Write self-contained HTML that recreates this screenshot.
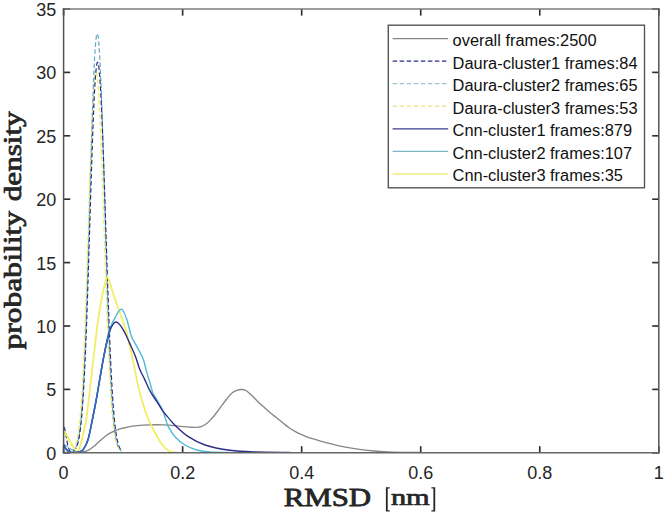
<!DOCTYPE html>
<html><head><meta charset="utf-8"><style>
html,body{margin:0;padding:0;background:#fff;}
body{width:665px;height:516px;overflow:hidden;position:relative;}
svg{position:absolute;left:0;top:0;}
.tk text{font-family:"Liberation Sans",sans-serif;font-size:18px;fill:#262626;}
.lg text{font-family:"Liberation Sans",sans-serif;font-size:16.4px;fill:#111;}
.lab{font-family:"Liberation Serif",serif;font-weight:normal;font-size:25.5px;fill:#262626;stroke:#262626;stroke-width:0.8px;}
</style></head><body>
<svg width="665" height="516" viewBox="0 0 665 516">
<rect x="0" y="0" width="665" height="516" fill="#fff"/>
<defs><clipPath id="ax"><rect x="63.6" y="9.0" width="595.20" height="443.80"/></clipPath></defs>
<g clip-path="url(#ax)">
<path d="M63.70,432.13 L63.96,432.15 L64.22,432.23 L64.48,432.36 L64.74,432.54 L64.99,432.78 L65.25,433.06 L65.51,433.38 L65.77,433.75 L66.03,434.16 L66.29,434.61 L66.55,435.09 L66.81,435.60 L67.06,436.14 L67.32,436.69 L67.58,437.27 L67.84,437.85 L68.10,438.45 L68.36,439.05 L68.62,439.65 L68.88,440.25 L69.13,440.84 L69.39,441.42 L69.65,441.98 L69.91,442.53 L70.17,443.05 L70.43,443.55 L70.69,444.02 L70.95,444.46 L71.20,444.86 L71.46,445.23 L71.72,445.56 L71.98,445.84 L72.24,446.09 L72.50,446.29 L72.76,446.44 L73.02,446.54 L73.27,446.58 L73.53,446.58 L73.79,446.51 L74.05,446.39 L74.31,446.20 L74.57,445.95 L74.83,445.63 L75.09,445.24 L75.34,444.77 L75.60,444.23 L75.86,443.60 L76.12,442.89 L76.38,442.08 L76.64,441.19 L76.90,440.19 L77.16,439.08 L77.41,437.87 L77.67,436.54 L77.93,435.08 L78.19,433.50 L78.45,431.78 L78.71,429.92 L78.97,427.92 L79.23,425.75 L79.48,423.43 L79.74,420.94 L80.00,418.27 L80.26,415.43 L80.52,412.39 L80.78,409.16 L81.04,405.74 L81.30,402.10 L81.55,398.26 L81.81,394.20 L82.07,389.93 L82.33,385.43 L82.59,380.71 L82.85,375.76 L83.11,370.58 L83.37,365.18 L83.62,359.55 L83.88,353.70 L84.14,347.62 L84.40,341.33 L84.66,334.82 L84.92,328.11 L85.18,321.20 L85.44,314.10 L85.69,306.83 L85.95,299.38 L86.21,291.78 L86.47,284.04 L86.73,276.17 L86.99,268.18 L87.25,260.11 L87.51,251.96 L87.76,243.75 L88.02,235.51 L88.28,227.25 L88.54,218.99 L88.80,210.76 L89.06,202.58 L89.32,194.47 L89.58,186.45 L89.84,178.54 L90.09,170.78 L90.35,163.17 L90.61,155.75 L90.87,148.53 L91.13,141.53 L91.39,134.78 L91.65,128.30 L91.91,122.10 L92.16,116.19 L92.42,110.61 L92.68,105.35 L92.94,100.44 L93.20,95.90 L93.46,91.72 L93.72,87.93 L93.98,84.52 L94.23,81.52 L94.49,78.92 L94.75,76.73 L95.01,74.96 L95.27,73.60 L95.53,72.67 L95.79,72.15 L96.05,72.05 L96.30,72.36 L96.56,73.09 L96.82,74.23 L97.08,75.76 L97.34,77.70 L97.60,80.03 L97.86,82.73 L98.12,85.81 L98.37,89.25 L98.63,93.05 L98.89,97.18 L99.15,101.65 L99.41,106.43 L99.67,111.51 L99.93,116.89 L100.19,122.54 L100.44,128.45 L100.70,134.61 L100.96,140.99 L101.22,147.59 L101.48,154.39 L101.74,161.37 L102.00,168.50 L102.26,175.79 L102.51,183.20 L102.77,190.72 L103.03,198.33 L103.29,206.02 L103.55,213.77 L103.81,221.55 L104.07,229.35 L104.33,237.16 L104.58,244.95 L104.84,252.72 L105.10,260.44 L105.36,268.09 L105.62,275.67 L105.88,283.16 L106.14,290.54 L106.40,297.81 L106.65,304.95 L106.91,311.94 L107.17,318.78 L107.43,325.46 L107.69,331.97 L107.95,338.31 L108.21,344.45 L108.47,350.41 L108.72,356.17 L108.98,361.73 L109.24,367.09 L109.50,372.24 L109.76,377.19 L110.02,381.93 L110.28,386.46 L110.54,390.79 L110.79,394.92 L111.05,398.84 L111.31,402.57 L111.57,406.10 L111.83,409.45 L112.09,412.61 L112.35,415.58 L112.61,418.39 L112.86,421.02 L113.12,423.49 L113.38,425.80 L113.64,427.97 L113.90,429.99 L114.16,431.87 L114.42,433.62 L114.68,435.24 L114.94,436.75 L115.19,438.14 L115.45,439.43 L115.71,440.61 L115.97,441.71 L116.23,442.71 L116.49,443.64 L116.75,444.48 L117.01,445.26 L117.26,445.97 L117.52,446.61 L117.78,447.20 L118.04,447.73 L118.30,448.22 L118.56,448.66 L118.82,449.06 L119.08,449.42 L119.33,449.74 L119.59,450.03 L119.85,450.30 L120.11,450.53 L120.37,450.75 L120.63,450.94" fill="none" stroke="#f1ee62" stroke-width="1.3" stroke-linejoin="round" stroke-dasharray="4.5 2.55"/>
<path d="M63.70,444.80 L63.96,444.80 L64.23,444.83 L64.49,444.88 L64.75,444.95 L65.01,445.04 L65.28,445.15 L65.54,445.28 L65.80,445.42 L66.07,445.58 L66.33,445.75 L66.59,445.93 L66.86,446.12 L67.12,446.33 L67.38,446.54 L67.64,446.75 L67.91,446.97 L68.17,447.20 L68.43,447.42 L68.70,447.64 L68.96,447.86 L69.22,448.07 L69.48,448.28 L69.75,448.48 L70.01,448.67 L70.27,448.85 L70.54,449.02 L70.80,449.17 L71.06,449.31 L71.33,449.43 L71.59,449.53 L71.85,449.61 L72.11,449.67 L72.38,449.71 L72.64,449.72 L72.90,449.70 L73.17,449.66 L73.43,449.59 L73.69,449.48 L73.96,449.34 L74.22,449.17 L74.48,448.96 L74.74,448.70 L75.01,448.41 L75.27,448.06 L75.53,447.67 L75.80,447.22 L76.06,446.71 L76.32,446.14 L76.58,445.51 L76.85,444.80 L77.11,444.02 L77.37,443.16 L77.64,442.22 L77.90,441.18 L78.16,440.04 L78.43,438.80 L78.69,437.44 L78.95,435.97 L79.21,434.37 L79.48,432.65 L79.74,430.77 L80.00,428.76 L80.27,426.58 L80.53,424.24 L80.79,421.73 L81.05,419.04 L81.32,416.16 L81.58,413.09 L81.84,409.81 L82.11,406.32 L82.37,402.61 L82.63,398.68 L82.90,394.51 L83.16,390.11 L83.42,385.46 L83.68,380.57 L83.95,375.42 L84.21,370.01 L84.47,364.35 L84.74,358.43 L85.00,352.24 L85.26,345.80 L85.53,339.10 L85.79,332.15 L86.05,324.94 L86.31,317.50 L86.58,309.81 L86.84,301.90 L87.10,293.77 L87.37,285.44 L87.63,276.92 L87.89,268.22 L88.15,259.36 L88.42,250.37 L88.68,241.25 L88.94,232.03 L89.21,222.73 L89.47,213.38 L89.73,204.00 L90.00,194.61 L90.26,185.25 L90.52,175.94 L90.78,166.70 L91.05,157.57 L91.31,148.58 L91.57,139.75 L91.84,131.11 L92.10,122.68 L92.36,114.51 L92.62,106.60 L92.89,99.00 L93.15,91.71 L93.41,84.78 L93.68,78.21 L93.94,72.03 L94.20,66.26 L94.47,60.92 L94.73,56.02 L94.99,51.58 L95.25,47.61 L95.52,44.12 L95.78,41.13 L96.04,38.63 L96.31,36.64 L96.57,35.16 L96.83,34.19 L97.09,33.74 L97.36,33.80 L97.62,34.38 L97.88,35.46 L98.15,37.05 L98.41,39.15 L98.67,41.73 L98.94,44.80 L99.20,48.35 L99.46,52.35 L99.72,56.81 L99.99,61.71 L100.25,67.03 L100.51,72.76 L100.78,78.88 L101.04,85.36 L101.30,92.20 L101.57,99.37 L101.83,106.85 L102.09,114.62 L102.35,122.65 L102.62,130.91 L102.88,139.39 L103.14,148.06 L103.41,156.89 L103.67,165.86 L103.93,174.93 L104.19,184.09 L104.46,193.31 L104.72,202.56 L104.98,211.82 L105.25,221.05 L105.51,230.25 L105.77,239.38 L106.04,248.42 L106.30,257.35 L106.56,266.16 L106.82,274.82 L107.09,283.31 L107.35,291.63 L107.61,299.75 L107.88,307.67 L108.14,315.37 L108.40,322.84 L108.66,330.08 L108.93,337.08 L109.19,343.82 L109.45,350.32 L109.72,356.56 L109.98,362.55 L110.24,368.27 L110.51,373.75 L110.77,378.96 L111.03,383.93 L111.29,388.65 L111.56,393.13 L111.82,397.36 L112.08,401.37 L112.35,405.15 L112.61,408.71 L112.87,412.05 L113.13,415.19 L113.40,418.14 L113.66,420.89 L113.92,423.46 L114.19,425.86 L114.45,428.09 L114.71,430.17 L114.98,432.09 L115.24,433.88 L115.50,435.53 L115.76,437.05 L116.03,438.46 L116.29,439.75 L116.55,440.94 L116.82,442.03 L117.08,443.03 L117.34,443.95 L117.61,444.78 L117.87,445.55 L118.13,446.24 L118.39,446.87 L118.66,447.45 L118.92,447.97 L119.18,448.44 L119.45,448.86 L119.71,449.25 L119.97,449.59 L120.23,449.91 L120.50,450.19 L120.76,450.44 L121.02,450.66 L121.29,450.86 L121.55,451.04" fill="none" stroke="#5aaec0" stroke-width="1.2" stroke-linejoin="round" stroke-dasharray="4.5 2.55"/>
<path d="M63.70,427.07 L63.97,427.20 L64.23,427.59 L64.50,428.23 L64.76,429.10 L65.03,430.17 L65.30,431.41 L65.56,432.79 L65.83,434.26 L66.09,435.80 L66.36,437.37 L66.63,438.93 L66.89,440.44 L67.16,441.90 L67.42,443.27 L67.69,444.54 L67.96,445.70 L68.22,446.74 L68.49,447.66 L68.75,448.46 L69.02,449.15 L69.29,449.73 L69.55,450.21 L69.82,450.60 L70.08,450.92 L70.35,451.16 L70.62,451.34 L70.88,451.47 L71.15,451.55 L71.42,451.60 L71.68,451.61 L71.95,451.59 L72.21,451.54 L72.48,451.47 L72.75,451.37 L73.01,451.26 L73.28,451.12 L73.54,450.96 L73.81,450.77 L74.08,450.56 L74.34,450.32 L74.61,450.05 L74.87,449.76 L75.14,449.42 L75.41,449.05 L75.67,448.64 L75.94,448.18 L76.20,447.67 L76.47,447.11 L76.74,446.48 L77.00,445.80 L77.27,445.05 L77.53,444.22 L77.80,443.31 L78.07,442.32 L78.33,441.23 L78.60,440.05 L78.86,438.76 L79.13,437.35 L79.40,435.83 L79.66,434.17 L79.93,432.39 L80.19,430.45 L80.46,428.37 L80.73,426.12 L80.99,423.71 L81.26,421.12 L81.52,418.35 L81.79,415.38 L82.06,412.22 L82.32,408.85 L82.59,405.27 L82.85,401.47 L83.12,397.44 L83.39,393.18 L83.65,388.69 L83.92,383.96 L84.18,378.98 L84.45,373.76 L84.72,368.30 L84.98,362.58 L85.25,356.63 L85.51,350.43 L85.78,343.99 L86.05,337.32 L86.31,330.41 L86.58,323.29 L86.85,315.95 L87.11,308.41 L87.38,300.68 L87.64,292.78 L87.91,284.70 L88.18,276.48 L88.44,268.14 L88.71,259.67 L88.97,251.12 L89.24,242.49 L89.51,233.81 L89.77,225.11 L90.04,216.40 L90.30,207.71 L90.57,199.06 L90.84,190.48 L91.10,181.99 L91.37,173.62 L91.63,165.39 L91.90,157.33 L92.17,149.47 L92.43,141.82 L92.70,134.41 L92.96,127.26 L93.23,120.40 L93.50,113.85 L93.76,107.61 L94.03,101.73 L94.29,96.20 L94.56,91.05 L94.83,86.29 L95.09,81.93 L95.36,77.99 L95.62,74.48 L95.89,71.39 L96.16,68.75 L96.42,66.56 L96.69,64.82 L96.95,63.53 L97.22,62.69 L97.49,62.31 L97.75,62.38 L98.02,62.90 L98.28,63.86 L98.55,65.26 L98.82,67.10 L99.08,69.37 L99.35,72.05 L99.61,75.14 L99.88,78.63 L100.15,82.50 L100.41,86.75 L100.68,91.35 L100.94,96.31 L101.21,101.60 L101.48,107.20 L101.74,113.11 L102.01,119.30 L102.28,125.77 L102.54,132.48 L102.81,139.42 L103.07,146.58 L103.34,153.94 L103.61,161.47 L103.87,169.15 L104.14,176.98 L104.40,184.92 L104.67,192.96 L104.94,201.08 L105.20,209.25 L105.47,217.46 L105.73,225.70 L106.00,233.93 L106.27,242.14 L106.53,250.31 L106.80,258.43 L107.06,266.47 L107.33,274.43 L107.60,282.28 L107.86,290.00 L108.13,297.60 L108.39,305.05 L108.66,312.34 L108.93,319.45 L109.19,326.39 L109.46,333.13 L109.72,339.68 L109.99,346.03 L110.26,352.16 L110.52,358.07 L110.79,363.77 L111.05,369.25 L111.32,374.50 L111.59,379.53 L111.85,384.34 L112.12,388.92 L112.38,393.28 L112.65,397.42 L112.92,401.35 L113.18,405.07 L113.45,408.59 L113.71,411.90 L113.98,415.02 L114.25,417.95 L114.51,420.70 L114.78,423.27 L115.04,425.67 L115.31,427.91 L115.58,430.00 L115.84,431.94 L116.11,433.74 L116.38,435.40 L116.64,436.94 L116.91,438.36 L117.17,439.67 L117.44,440.88 L117.71,441.98 L117.97,443.00 L118.24,443.92 L118.50,444.77 L118.77,445.54 L119.04,446.25 L119.30,446.89 L119.57,447.46 L119.83,447.99 L120.10,448.47 L120.37,448.89 L120.63,449.28 L120.90,449.63 L121.16,449.94 L121.43,450.22 L121.70,450.47 L121.96,450.70 L122.23,450.90" fill="none" stroke="#2c2c88" stroke-width="1.2" stroke-linejoin="round" stroke-dasharray="4.5 2.55"/>
<path d="M63.70,452.40 C65.75,452.40 72.92,452.43 76.00,452.40 C79.08,452.37 80.53,452.40 82.20,452.20 C83.87,452.00 84.70,451.70 86.00,451.20 C87.30,450.70 88.67,450.02 90.00,449.20 C91.33,448.38 92.67,447.40 94.00,446.30 C95.33,445.20 96.67,443.82 98.00,442.60 C99.33,441.38 100.67,440.13 102.00,439.00 C103.33,437.87 104.67,436.77 106.00,435.80 C107.33,434.83 108.67,433.98 110.00,433.20 C111.33,432.42 112.67,431.70 114.00,431.10 C115.33,430.50 116.67,430.05 118.00,429.60 C119.33,429.15 119.83,428.95 122.00,428.40 C124.17,427.85 127.48,426.85 131.00,426.30 C134.52,425.75 137.72,425.33 143.10,425.10 C148.48,424.87 157.15,424.68 163.30,424.90 C169.45,425.12 175.55,426.02 180.00,426.40 C184.45,426.78 187.50,427.03 190.00,427.20 C192.50,427.37 193.28,427.45 195.00,427.40 C196.72,427.35 198.52,427.42 200.30,426.90 C202.08,426.38 203.92,425.55 205.70,424.30 C207.48,423.05 209.23,421.28 211.00,419.40 C212.77,417.52 214.52,415.30 216.30,413.00 C218.08,410.70 219.92,407.98 221.70,405.60 C223.48,403.22 225.23,400.83 227.00,398.70 C228.77,396.57 230.53,394.23 232.30,392.80 C234.07,391.37 236.12,390.65 237.60,390.10 C239.08,389.55 239.83,389.43 241.20,389.50 C242.57,389.57 244.12,389.57 245.80,390.50 C247.48,391.43 249.33,393.28 251.30,395.10 C253.27,396.92 255.50,399.42 257.60,401.40 C259.70,403.38 261.80,405.12 263.90,407.00 C266.00,408.88 268.10,410.92 270.20,412.70 C272.30,414.48 274.40,416.02 276.50,417.70 C278.60,419.38 280.70,421.12 282.80,422.80 C284.90,424.48 287.00,426.33 289.10,427.80 C291.20,429.27 293.30,430.45 295.40,431.60 C297.50,432.75 299.60,433.75 301.70,434.70 C303.80,435.65 305.90,436.55 308.00,437.30 C310.10,438.05 311.47,438.37 314.30,439.20 C317.13,440.03 321.05,441.23 325.00,442.30 C328.95,443.37 332.82,444.52 338.00,445.60 C343.18,446.68 350.07,447.90 356.10,448.80 C362.13,449.70 368.18,450.43 374.20,451.00 C380.22,451.57 384.57,451.97 392.20,452.20 C399.83,452.43 415.37,452.37 420.00,452.40" fill="none" stroke="#868686" stroke-width="1.35" stroke-linejoin="round"/>
<path d="M63.70,431.60 C64.42,432.58 66.62,435.35 68.00,437.50 C69.38,439.65 70.58,442.20 72.00,444.50 C73.42,446.80 75.45,450.13 76.50,451.30 C77.55,452.47 77.68,452.38 78.30,451.50 C78.92,450.62 79.62,447.92 80.20,446.00 C80.78,444.08 81.17,442.67 81.80,440.00 C82.43,437.33 83.27,433.33 84.00,430.00 C84.73,426.67 85.42,425.00 86.20,420.00 C86.98,415.00 87.92,406.67 88.70,400.00 C89.48,393.33 90.13,386.67 90.90,380.00 C91.67,373.33 92.52,366.67 93.30,360.00 C94.08,353.33 94.80,346.67 95.60,340.00 C96.40,333.33 97.25,326.00 98.10,320.00 C98.95,314.00 99.85,308.83 100.70,304.00 C101.55,299.17 102.43,294.58 103.20,291.00 C103.97,287.42 104.65,284.83 105.30,282.50 C105.95,280.17 106.40,277.17 107.10,277.00 C107.80,276.83 108.52,278.83 109.50,281.50 C110.48,284.17 111.78,289.25 113.00,293.00 C114.22,296.75 115.47,300.17 116.80,304.00 C118.13,307.83 119.55,311.83 121.00,316.00 C122.45,320.17 124.10,324.23 125.50,329.00 C126.90,333.77 128.10,339.10 129.40,344.60 C130.70,350.10 132.02,355.93 133.30,362.00 C134.58,368.07 135.87,375.33 137.10,381.00 C138.33,386.67 139.00,390.05 140.70,396.00 C142.40,401.95 145.00,410.75 147.30,416.70 C149.60,422.65 152.05,427.07 154.50,431.70 C156.95,436.33 159.50,441.25 162.00,444.50 C164.50,447.75 167.00,449.88 169.50,451.20 C172.00,452.52 175.75,452.20 177.00,452.40" fill="none" stroke="#f1ee62" stroke-width="1.8" stroke-linejoin="round"/>
<path d="M63.70,444.90 C64.17,445.67 65.45,448.28 66.50,449.50 C67.55,450.72 68.42,451.72 70.00,452.20 C71.58,452.68 74.42,452.47 76.00,452.40 C77.58,452.33 78.30,452.27 79.50,451.80 C80.70,451.33 81.80,451.57 83.20,449.60 C84.60,447.63 86.38,444.93 87.90,440.00 C89.42,435.07 90.92,426.67 92.30,420.00 C93.68,413.33 95.23,405.17 96.20,400.00 C97.17,394.83 96.90,395.92 98.10,389.00 C99.30,382.08 101.92,366.67 103.40,358.50 C104.88,350.33 105.98,344.67 107.00,340.00 C108.02,335.33 108.67,333.25 109.50,330.50 C110.33,327.75 111.03,325.72 112.00,323.50 C112.97,321.28 114.30,319.07 115.30,317.20 C116.30,315.33 117.13,313.60 118.00,312.30 C118.87,311.00 119.67,309.70 120.50,309.40 C121.33,309.10 121.92,308.73 123.00,310.50 C124.08,312.27 125.62,315.77 127.00,320.00 C128.38,324.23 129.93,331.97 131.30,335.90 C132.67,339.83 133.70,340.75 135.20,343.60 C136.70,346.45 138.88,350.18 140.30,353.00 C141.72,355.82 142.65,357.40 143.70,360.50 C144.75,363.60 145.53,367.80 146.60,371.60 C147.67,375.40 149.10,379.83 150.10,383.30 C151.10,386.77 151.70,390.02 152.60,392.40 C153.50,394.78 154.35,395.60 155.50,397.60 C156.65,399.60 158.25,402.17 159.50,404.40 C160.75,406.63 161.98,408.57 163.00,411.00 C164.02,413.43 164.72,416.38 165.60,419.00 C166.48,421.62 166.73,423.75 168.30,426.70 C169.87,429.65 172.22,433.65 175.00,436.70 C177.78,439.75 181.38,442.78 185.00,445.00 C188.62,447.22 192.53,448.83 196.70,450.00 C200.87,451.17 204.45,451.60 210.00,452.00 C215.55,452.40 226.67,452.33 230.00,452.40" fill="none" stroke="#4fb9d6" stroke-width="1.4" stroke-linejoin="round"/>
<path d="M63.70,444.90 C64.17,445.67 65.45,448.28 66.50,449.50 C67.55,450.72 68.42,451.72 70.00,452.20 C71.58,452.68 74.42,452.47 76.00,452.40 C77.58,452.33 78.30,452.27 79.50,451.80 C80.70,451.33 81.80,451.57 83.20,449.60 C84.60,447.63 86.38,444.93 87.90,440.00 C89.42,435.07 90.92,426.67 92.30,420.00 C93.68,413.33 95.23,405.17 96.20,400.00 C97.17,394.83 96.90,395.92 98.10,389.00 C99.30,382.08 101.62,367.67 103.40,358.50 C105.18,349.33 107.37,339.42 108.80,334.00 C110.23,328.58 110.93,327.97 112.00,326.00 C113.07,324.03 114.20,322.70 115.20,322.20 C116.20,321.70 116.93,322.18 118.00,323.00 C119.07,323.82 120.35,325.27 121.60,327.10 C122.85,328.93 124.20,331.42 125.50,334.00 C126.80,336.58 127.73,338.85 129.40,342.60 C131.07,346.35 133.78,352.05 135.50,356.50 C137.22,360.95 138.23,365.62 139.70,369.30 C141.17,372.98 142.75,375.32 144.30,378.60 C145.85,381.88 147.65,386.28 149.00,389.00 C150.35,391.72 151.05,392.75 152.40,394.90 C153.75,397.05 155.35,399.18 157.10,401.90 C158.85,404.62 160.97,408.50 162.90,411.20 C164.83,413.90 166.68,415.75 168.70,418.10 C170.72,420.45 171.73,422.20 175.00,425.30 C178.27,428.40 183.30,433.42 188.30,436.70 C193.30,439.98 198.05,442.73 205.00,445.00 C211.95,447.27 221.67,449.13 230.00,450.30 C238.33,451.47 245.00,451.65 255.00,452.00 C265.00,452.35 284.17,452.33 290.00,452.40" fill="none" stroke="#2c2c88" stroke-width="1.4" stroke-linejoin="round"/>
<path d="M63.70,444.90 C64.17,445.67 65.45,448.28 66.50,449.50 C67.55,450.72 68.42,451.72 70.00,452.20 C71.58,452.68 74.42,452.47 76.00,452.40 C77.58,452.33 78.30,452.27 79.50,451.80 C80.70,451.33 81.80,451.57 83.20,449.60 C84.60,447.63 86.38,444.93 87.90,440.00 C89.42,435.07 90.92,426.67 92.30,420.00 C93.68,413.33 95.23,405.17 96.20,400.00 C97.17,394.83 96.90,395.92 98.10,389.00 C99.30,382.08 101.62,367.67 103.40,358.50 C105.18,349.33 107.60,338.83 108.80,334.00 C110.00,329.17 110.30,330.25 110.60,329.50" fill="none" stroke="#3569c2" stroke-width="1.5" stroke-linejoin="round"/>
</g>
<g stroke="#2e2e2e" stroke-width="1.65">
<line x1="63.60" y1="452.8" x2="63.60" y2="446.2" />
<line x1="63.60" y1="9.0" x2="63.60" y2="15.6" />
<line x1="182.64" y1="452.8" x2="182.64" y2="446.2" />
<line x1="182.64" y1="9.0" x2="182.64" y2="15.6" />
<line x1="301.68" y1="452.8" x2="301.68" y2="446.2" />
<line x1="301.68" y1="9.0" x2="301.68" y2="15.6" />
<line x1="420.72" y1="452.8" x2="420.72" y2="446.2" />
<line x1="420.72" y1="9.0" x2="420.72" y2="15.6" />
<line x1="539.76" y1="452.8" x2="539.76" y2="446.2" />
<line x1="539.76" y1="9.0" x2="539.76" y2="15.6" />
<line x1="658.80" y1="452.8" x2="658.80" y2="446.2" />
<line x1="658.80" y1="9.0" x2="658.80" y2="15.6" />
<line x1="63.6" y1="452.80" x2="70.2" y2="452.80" />
<line x1="658.8" y1="452.80" x2="652.1999999999999" y2="452.80" />
<line x1="63.6" y1="389.40" x2="70.2" y2="389.40" />
<line x1="658.8" y1="389.40" x2="652.1999999999999" y2="389.40" />
<line x1="63.6" y1="326.00" x2="70.2" y2="326.00" />
<line x1="658.8" y1="326.00" x2="652.1999999999999" y2="326.00" />
<line x1="63.6" y1="262.60" x2="70.2" y2="262.60" />
<line x1="658.8" y1="262.60" x2="652.1999999999999" y2="262.60" />
<line x1="63.6" y1="199.20" x2="70.2" y2="199.20" />
<line x1="658.8" y1="199.20" x2="652.1999999999999" y2="199.20" />
<line x1="63.6" y1="135.80" x2="70.2" y2="135.80" />
<line x1="658.8" y1="135.80" x2="652.1999999999999" y2="135.80" />
<line x1="63.6" y1="72.40" x2="70.2" y2="72.40" />
<line x1="658.8" y1="72.40" x2="652.1999999999999" y2="72.40" />
<line x1="63.6" y1="9.00" x2="70.2" y2="9.00" />
<line x1="658.8" y1="9.00" x2="652.1999999999999" y2="9.00" />
</g>
<g stroke-width="1.5" stroke-linecap="square">
<line x1="63.6" y1="9.0" x2="658.8" y2="9.0" stroke="#7c7c7c"/>
<line x1="658.8" y1="9.0" x2="658.8" y2="452.8" stroke="#555"/>
<line x1="63.6" y1="452.8" x2="658.8" y2="452.8" stroke="#666"/>
<line x1="63.6" y1="9.0" x2="63.6" y2="452.8" stroke="#505050"/>
</g>
<g class="lg">
<rect x="388.3" y="25.2" width="256.20" height="162.60" fill="#fff" stroke="#555" stroke-width="1.4"/>
<line x1="392.6" y1="38.60" x2="448.2" y2="38.60" stroke="#868686" stroke-width="1.45"/>
<text transform="translate(452.6,46.00) scale(1,1.04)">overall frames:2500</text>
<line x1="392.6" y1="61.16" x2="448.2" y2="61.16" stroke="#2c2c88" stroke-width="1.2" stroke-dasharray="4.5 2.55"/>
<text transform="translate(452.6,68.56) scale(1,1.04)">Daura-cluster1 frames:84</text>
<line x1="392.6" y1="83.72" x2="448.2" y2="83.72" stroke="#9cc4c8" stroke-width="1.3" stroke-dasharray="4.5 2.55"/>
<text transform="translate(452.6,91.12) scale(1,1.04)">Daura-cluster2 frames:65</text>
<line x1="392.6" y1="106.28" x2="448.2" y2="106.28" stroke="#eae79a" stroke-width="1.4" stroke-dasharray="4.5 2.55"/>
<text transform="translate(452.6,113.68) scale(1,1.04)">Daura-cluster3 frames:53</text>
<line x1="392.6" y1="128.84" x2="448.2" y2="128.84" stroke="#3a3a98" stroke-width="1.4"/>
<text transform="translate(452.6,136.24) scale(1,1.04)">Cnn-cluster1 frames:879</text>
<line x1="392.6" y1="151.40" x2="448.2" y2="151.40" stroke="#7cb8c4" stroke-width="1.1"/>
<text transform="translate(452.6,158.80) scale(1,1.04)">Cnn-cluster2 frames:107</text>
<line x1="392.6" y1="173.96" x2="448.2" y2="173.96" stroke="#eeea80" stroke-width="1.6"/>
<text transform="translate(452.6,181.36) scale(1,1.04)">Cnn-cluster3 frames:35</text>
</g>
<g class="tk">
<text x="0" y="0" text-anchor="middle" transform="translate(63.60,479) scale(1,1.05)">0</text>
<text x="0" y="0" text-anchor="middle" transform="translate(182.64,479) scale(1,1.05)">0.2</text>
<text x="0" y="0" text-anchor="middle" transform="translate(301.68,479) scale(1,1.05)">0.4</text>
<text x="0" y="0" text-anchor="middle" transform="translate(420.72,479) scale(1,1.05)">0.6</text>
<text x="0" y="0" text-anchor="middle" transform="translate(539.76,479) scale(1,1.05)">0.8</text>
<text x="0" y="0" text-anchor="middle" transform="translate(658.80,479) scale(1,1.05)">1</text>
<text x="0" y="0" text-anchor="end" transform="translate(56.2,459.70) scale(1,1.05)">0</text>
<text x="0" y="0" text-anchor="end" transform="translate(56.2,396.30) scale(1,1.05)">5</text>
<text x="0" y="0" text-anchor="end" transform="translate(56.2,332.90) scale(1,1.05)">10</text>
<text x="0" y="0" text-anchor="end" transform="translate(56.2,269.50) scale(1,1.05)">15</text>
<text x="0" y="0" text-anchor="end" transform="translate(56.2,206.10) scale(1,1.05)">20</text>
<text x="0" y="0" text-anchor="end" transform="translate(56.2,142.70) scale(1,1.05)">25</text>
<text x="0" y="0" text-anchor="end" transform="translate(56.2,79.30) scale(1,1.05)">30</text>
<text x="0" y="0" text-anchor="end" transform="translate(56.2,15.90) scale(1,1.05)">35</text>
</g>
<text class="lab" x="0" y="0" transform="translate(283.7,505.6) scale(1.21,0.965)">RMSD</text>
<text class="lab" x="0" y="0" transform="translate(390.9,505.4) scale(1.19,0.93)">nm</text>
<path d="M385.9,487.2 H389.7 V488.5 H387.7 V510.3 H389.7 V511.6 H385.9 Z M435.2,487.2 H431.4 V488.5 H433.4 V510.3 H431.4 V511.6 H435.2 Z" fill="#262626"/>
<text class="lab" x="0" y="0" transform="translate(20.7,349.6) rotate(-90) scale(1.24,0.96)">probability</text>
<text class="lab" x="0" y="0" transform="translate(20.7,201.2) rotate(-90) scale(1.22,0.96)">density</text>
</svg>
</body></html>
